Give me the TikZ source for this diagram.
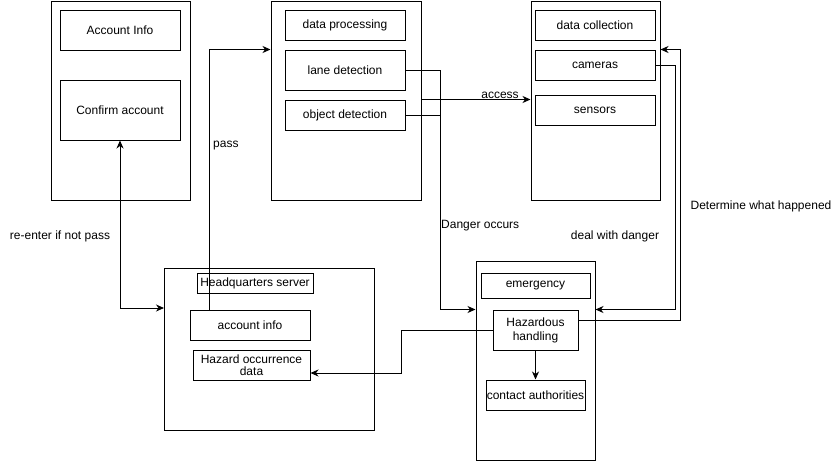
\documentclass[tikz,border=0pt]{standalone}
\usepackage{fontspec}
\setmainfont{Liberation Sans}
\usetikzlibrary{arrows.meta,calc}
\begin{document}
\begin{tikzpicture}[x=1pt,y=-1pt,
  font=\fontsize{12}{14}\selectfont,
  frame/.style={draw,line width=1pt,inner sep=0pt},
  conn/.style={line width=1pt,-{Stealth[length=8pt,width=7pt,inset=2.5pt]}},
  conn2/.style={line width=1pt,{Stealth[length=8pt,width=7pt,inset=2.5pt]}-{Stealth[length=8pt,width=7pt,inset=2.5pt]}},
  plain/.style={line width=1pt},
  lbl/.style={inner sep=0pt}]
\useasboundingbox (0,0) rectangle (840,461);
% containers
\node[frame,minimum width=139pt,minimum height=199pt] (lc) at (120.5,100.5) {};
\node[frame,minimum width=150pt,minimum height=199pt] (mc) at (346,100.5) {};
\node[frame,minimum width=129pt,minimum height=199pt] (rc) at (595.5,100.5) {};
\node[frame,minimum width=210pt,minimum height=161.5pt] (hq) at (269.5,349.25) {};
\node[frame,minimum width=119pt,minimum height=199pt] (em) at (535.5,360.5) {};
% inner boxes
\node[frame,minimum width=120pt,minimum height=40pt] (acc) at (120,30) {Account Info};
\node[frame,minimum width=120pt,minimum height=60pt] (conf) at (120,110) {Confirm account};
\node[frame,minimum width=120pt,minimum height=30pt] (dp) at (345,25) {data processing};
\node[frame,minimum width=120pt,minimum height=40pt] (lane) at (345,70) {lane detection};
\node[frame,minimum width=120pt,minimum height=30pt] (obj) at (345,115) {object detection};
\node[frame,minimum width=120pt,minimum height=30pt] (dc) at (595,25) {data collection};
\node[frame,minimum width=120pt,minimum height=30pt] (cam) at (595,65) {cameras};
\node[frame,minimum width=120pt,minimum height=30pt] (sen) at (595,110) {sensors};
\node[frame,minimum width=116pt,minimum height=20pt] (hqs) at (255,283) {Headquarters server};
\node[frame,minimum width=120pt,minimum height=30pt] (ai) at (250,325) {account info};
\node[frame,minimum width=117pt,minimum height=30pt,align=center] (hod) at (251.5,365) {Hazard occurrence\\[-2pt]data};
\node[frame,minimum width=109pt,minimum height=25pt] (emg) at (535.5,285.5) {emergency};
\node[frame,minimum width=85pt,minimum height=40pt,align=center] (hh) at (535.5,330) {Hazardous\\handling};
\node[frame,minimum width=99pt,minimum height=30pt] (ca) at (535.5,395) {contact authorities};
% helper coordinate
\coordinate (y308) at (0,308);
% connectors
\draw[conn2] (conf.south) |- (hq.west |- y308);
\draw[conn] ([xshift=20pt]ai.north west) |- (mc.west |- lane.north);
\draw[conn] (lane.east) -- ++(35,0) |- (em.west |- hh.north);
\draw[plain] (obj.east) -- ++(35,0);
\draw[conn] (mc.east |- obj.north) -- (rc.west |- obj.north);
\draw[conn] (cam.east) -- ++(20,0) |- (em.east |- hh.north);
\draw[conn] ([yshift=10pt]hh.east) -| ($(rc.east |- lane.north)+(20,0)$) -- (rc.east |- lane.north);
\draw[conn] (hh.west) -- ++(-91,0) |- ([yshift=-8pt]hod.east);
\draw[conn] (hh.south) -- (ca.north);
% labels
\node[lbl,anchor=west] (lpass) at (213,146) {pass};
\node[lbl] (lre) at (60,236) {re-enter if not pass};
\node[lbl,anchor=west] (ldanger) at (441,226) {Danger occurs};
\node[lbl] (ldeal) at (615,236) {deal with danger};
\node[lbl] (ldet) at (761,206) {Determine what happened};
\node[lbl] (lacc) at (500,95) {access};
\end{tikzpicture}
\end{document}
